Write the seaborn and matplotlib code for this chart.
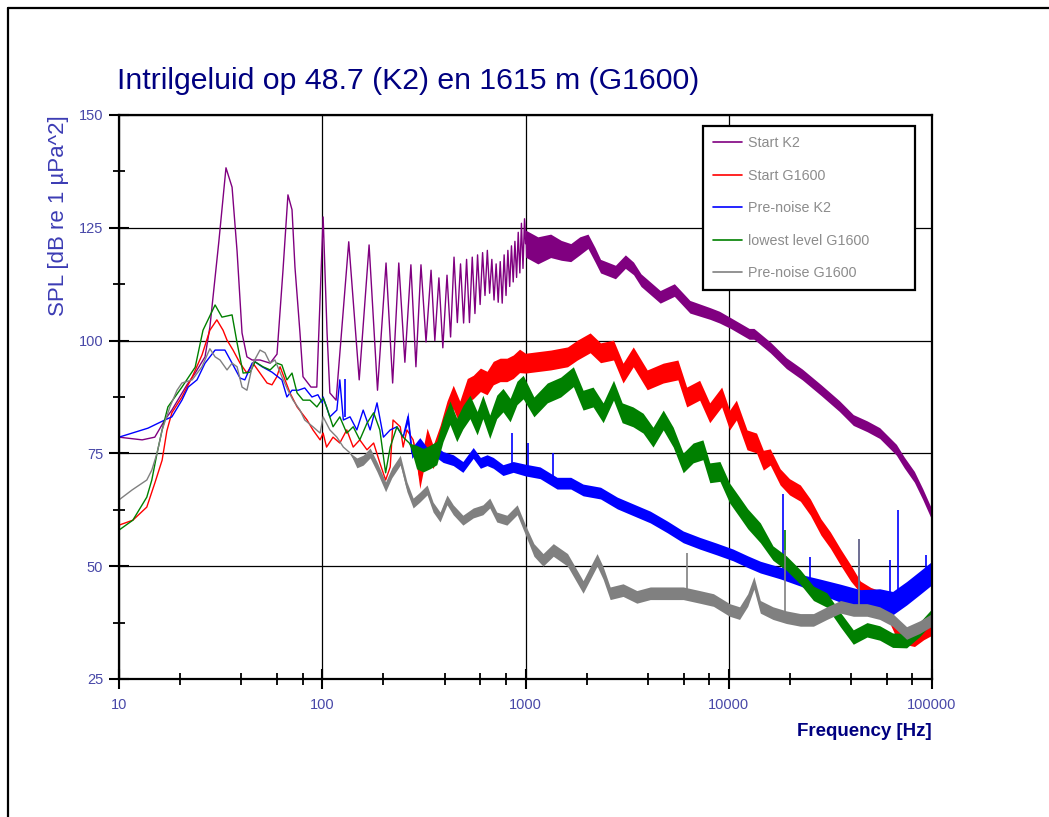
import numpy as np
import pandas as pd
import matplotlib
matplotlib.use("Agg")
import matplotlib.pyplot as plt
import seaborn as sns
from matplotlib.lines import Line2D
from matplotlib.ticker import FixedLocator, FixedFormatter, NullFormatter

# ---------------- data ----------------
title = "Intrilgeluid op 48.7 (K2) en 1615 m (G1600)"
xlabel = "Frequency [Hz]"
ylabel = "SPL [dB re 1 \u00b5Pa^2]"
series_labels = ["Start K2", "Start G1600", "Pre-noise K2", "lowest level G1600", "Pre-noise G1600"]
series_colors = ["#800080", "#ff0000", "#0000ff", "#008000", "#808080"]
x_ticks = [10, 100, 1000, 10000, 100000]
x_ticklabels = ["10", "100", "1000", "10000", "100000"]
x_minor = [20, 40, 60, 80, 200, 400, 600, 800, 2000, 4000, 6000, 8000,
           20000, 40000, 60000, 80000]
y_ticks = [25, 50, 75, 100, 125, 150]
y_minor = [37.5, 62.5, 87.5, 112.5, 137.5]

# Start K2 (purple)
k2_freq = [10, 13, 15, 16.8, 18.2, 21.6, 23.7, 26.5, 28, 31, 33.6, 36, 38.1, 40.3, 42.6, 45.2,
           49.4, 55.4, 59.9, 64.1, 67.8, 71, 73.4, 77.7, 80.4, 88, 94, 101, 105.6, 109, 117,
           135, 152, 170, 187, 206, 222, 238, 255, 273, 289, 306, 324, 343, 358, 375, 392,
           411, 428, 445, 462, 479, 496, 513, 530, 547, 564, 581, 598, 615, 632, 649, 666,
           683, 700, 717, 734, 751, 768, 785, 802, 819, 836, 853, 870, 887, 904, 921, 938,
           955, 972, 989,
           1000, 1150, 1330, 1500, 1670, 1850, 2030, 2200, 2340, 2770, 3100, 3400, 3700,
           4600, 5400, 6440, 8100, 9000, 10200, 12600, 13300, 16000, 19200, 23000, 28500,
           35000, 41000, 48000, 55300, 66800, 73000, 81900, 90000, 99000, 100000]
k2_level = [78.6, 78.0, 78.6, 82.4, 84.6, 90.2, 92.8, 96.4, 103.0, 122.0, 138.3, 134.0, 119.8,
            101.7, 96.4, 95.7, 95.7, 95.0, 97.0, 115.6, 132.3, 129.0, 116.3, 101.7, 92.0, 89.7,
            89.7, 127.4, 101.7, 88.4, 86.8,
            121.9, 91.3, 121.2, 89.0, 117.2, 90.6, 117.2, 95.2, 116.8, 94.2, 116.8, 99.7,
            115.6, 100.0, 113.9, 98.4, 114.5, 100.8, 118.5, 104.0, 117.0, 103.9, 118.0,
            104.0, 118.5, 106.0, 119.0, 108.0, 119.5, 110.0, 120.0, 110.5, 118.0, 109.0,
            117.0, 108.5, 117.5, 108.3, 119.0, 110.0, 120.0, 112.0, 121.0, 113.0, 122.0,
            114.0, 124.0, 115.0, 126.0, 116.0, 127.0,
            121.5, 120.0, 121.0, 120.0, 119.5, 121.0, 122.0, 119.0, 116.5, 115.2, 117.5,
            116.0, 113.4, 109.7, 111.2, 107.5, 106.0, 105.2, 103.9, 101.5, 101.5, 98.5,
            95.0, 92.5, 89.0, 85.5, 82.4, 81.0, 79.5, 75.8, 73.0, 69.8, 66.0, 61.8, 61.0]
k2_spread = [0] * 82 + [3.0, 3.0, 2.6, 2.2, 2.0, 2.0, 1.6, 1.6, 1.5, 1.5, 1.5, 1.4, 1.4, 1.4,
                        1.4, 1.4, 1.3, 1.3, 1.2, 1.2, 1.2, 1.2, 1.2, 1.2, 1.2, 1.2, 1.2, 1.2,
                        1.2, 1.2, 1.2, 1.2, 1.2, 1.2, 1.2]

# Start G1600 (red)
g_start_freq = [10, 11.7, 13.7, 15.0, 16.3, 17.2, 18.2, 20.4, 22.9, 25.6, 28, 30.3, 32.5, 34,
                36.4, 39.4, 42.6, 45.6, 49.4, 53.5, 56.6, 59.8, 62, 65.6, 69.4, 75.2, 84.2,
                90, 97.6, 101, 105, 113, 122, 132, 142, 153, 166, 179, 192, 205, 216, 223,
                242, 250, 261, 280, 302, 328, 351, 380, 411, 441, 475, 517, 553, 600, 647,
                694, 750, 810, 870, 935, 1000, 1330, 1610, 1800, 2080, 2340, 2710, 3020,
                3390, 3970, 4760, 5620, 6210, 7190, 8060, 9230, 10100, 10900, 12300, 13700,
                14800, 16000, 17900, 19900, 22500, 25200, 28400, 31600, 35500, 39800, 44400,
                49900, 55700, 60000, 66000, 73000, 82000, 91000, 100000]
g_start_level = [59.1, 60.2, 63.1, 68.4, 73.5, 80.0, 84.0, 87.5, 91.9, 96.8, 102.3, 104.6,
                 102.3, 100.1, 97.9, 95.0, 92.8, 95.0, 92.8, 90.6, 90.2, 92.0, 94.2, 91.3,
                 88.4, 85.3, 82.4, 80.2, 78.0, 79.5, 76.4, 78.6, 77.3, 80.2, 76.4, 78.0,
                 75.8, 77.3, 72.9, 69.1, 72.0, 82.4, 80.9, 76.4, 80.2, 78.0, 69.8, 78.0,
                 74.2, 78.6, 84.0, 87.5, 84.0, 89.0, 89.7, 91.3, 90.6, 92.8, 93.5, 93.5,
                 94.2, 95.5, 95.0, 95.7, 96.4, 97.9, 99.5, 97.3, 97.9, 92.8, 96.4, 91.3,
                 92.8, 93.5, 87.5, 89.0, 84.0, 87.5, 82.4, 84.6, 78.0, 77.3, 73.5, 74.2,
                 69.8, 67.6, 66.2, 63.1, 58.7, 55.8, 52.0, 48.5, 45.4, 44.0, 43.2, 40.0,
                 36.0, 34.0, 33.5, 35.0, 36.0]
g_start_spread = [0] * 46 + [2.6] * 16 + [2.2] * 21 + [1.8] * 9 + [1.3] * 9

# Pre-noise K2 (blue)
k2_pre_freq = [10, 11.6, 13.9, 15.6, 16.8, 18.2, 20.4, 21.9, 24.2, 26.5, 29.7, 33.2, 36, 39.4,
               41.6, 45.2, 46.7, 50.6, 56.6, 63.3, 67, 71, 76.2, 82, 89, 95.2, 100, 101, 109,
               118, 122, 127, 137, 148, 159, 172, 186, 200, 216, 233, 250, 264, 276, 302,
               328, 351, 393, 441, 492, 553, 600, 647, 694, 775, 870, 1000, 1180, 1430,
               1670, 1920, 2340, 2830, 3390, 4110, 4990, 5970, 7190, 8730, 10500, 12400,
               14300, 17900, 22500, 28400, 35500, 44400, 55300, 64000, 75000, 87000, 100000]
k2_pre_level = [78.6, 79.5, 80.6, 81.7, 82.4, 83.1, 86.8, 89.7, 91.3, 95.0, 97.9, 97.9, 95.0,
                91.7, 91.3, 95.0, 95.3, 94.2, 93.0, 91.3, 87.5, 89.0, 89.0, 89.5, 87.5, 88.0,
                86.2, 87.5, 83.1, 84.6, 91.3, 82.4, 83.1, 80.2, 84.6, 80.2, 86.2, 78.6,
                80.2, 80.9, 78.6, 83.1, 75.1, 77.3, 75.1, 75.8, 74.2, 73.5, 72.0, 75.1,
                72.9, 73.5, 72.9, 71.3, 72.0, 71.3, 70.7, 68.4, 68.4, 66.9, 66.2, 64.0,
                62.5, 60.9, 58.7, 56.5, 55.1, 53.8, 52.5, 51.0, 49.8, 48.5, 46.9, 45.4,
                44.0, 42.5, 42.5, 41.8, 44.0, 46.3, 48.5]
k2_pre_spread = [0] * 41 + [1.2] * 14 + [1.3] * 18 + [1.7, 2.0, 2.3, 2.5, 2.6, 2.6, 2.6, 2.6]

# lowest level G1600 (green)
g_low_freq = [10, 11.7, 13.7, 14.5, 15.4, 16.3, 17.4, 20.4, 23.7, 25.9, 29.7, 32.1, 36, 38.1,
              40.8, 44.2, 46.7, 51.1, 55.4, 59.9, 63.3, 67, 71, 75.2, 80.4, 87, 94.1, 101,
              105, 113, 122, 132, 142, 153, 166, 179, 192, 205, 216, 233, 250, 268, 291,
              314, 339, 366, 393, 425, 459, 492, 533, 578, 617, 667, 722, 775, 840, 908,
              974, 1100, 1280, 1490, 1720, 1920, 2150, 2410, 2710, 2990, 3380, 3790, 4240,
              4760, 5330, 5970, 6680, 7460, 8070, 9050, 10100, 11300, 12400, 14300, 16500,
              19200, 22500, 26100, 30400, 35500, 41000, 47900, 55300, 64000, 75000, 87000,
              100000]
g_low_level = [58.0, 60.2, 65.3, 69.1, 75.1, 80.2, 85.3, 89.7, 94.1, 102.3, 107.9, 105.2,
               105.7, 99.5, 92.8, 93.0, 95.3, 94.2, 93.5, 95.0, 94.6, 91.3, 92.8, 88.4, 86.8,
               86.8, 85.3, 87.3, 85.3, 80.9, 83.1, 79.5, 80.9, 78.0, 81.7, 84.0, 80.2, 70.7,
               76.4, 80.9, 78.6, 77.3, 74.2, 73.5, 74.2, 75.1, 80.2, 84.0, 80.2, 83.0, 85.3,
               81.7, 85.3, 80.9, 85.3, 86.8, 84.6, 88.4, 89.7, 85.3, 88.4, 89.7, 92.0, 86.8,
               87.5, 84.0, 89.0, 84.0, 83.1, 81.7, 78.6, 82.4, 78.6, 72.9, 75.1, 75.8, 70.7,
               71.0, 66.2, 63.1, 60.5, 57.4, 52.9, 50.7, 47.6, 44.0, 42.5, 38.1, 34.3, 35.9,
               35.2, 33.6, 33.5, 36.0, 39.0]
g_low_spread = [0] * 42 + [2.6] * 17 + [2.2] * 23 + [1.6] * 13

# Pre-noise G1600 (grey)
g_pre_freq = [10, 11.6, 13.7, 14.5, 15.4, 16.3, 17.8, 19.3, 20.4, 22.9, 25.6, 28, 29.7, 31.4,
              34, 36, 38.1, 40.3, 42.6, 45.6, 49.4, 52.3, 55.4, 58.5, 63.3, 67.8, 71.8, 77.7,
              82, 90, 97.6, 101, 109, 118, 127, 137, 148, 159, 172, 186, 205, 220, 242, 261,
              280, 302, 328, 351, 380, 411, 441, 492, 553, 617, 667, 722, 810, 910, 1000,
              1100, 1220, 1370, 1610, 1920, 2250, 2410, 2610, 3020, 3530, 4110, 4990, 5970,
              7190, 8410, 10100, 11300, 12400, 13300, 14300, 16500, 19200, 22500, 26100,
              30400, 35500, 41000, 47900, 55300, 64000, 75000, 87000, 100000]
g_pre_level = [64.7, 66.9, 69.1, 71.3, 75.1, 80.2, 85.3, 89.0, 90.6, 91.3, 94.2, 98.2, 96.4,
               95.7, 93.5, 95.0, 94.2, 89.7, 89.0, 95.0, 97.9, 97.3, 95.0, 95.7, 92.0, 89.0,
               86.8, 84.6, 82.4, 80.9, 79.5, 83.1, 80.2, 78.6, 76.4, 75.1, 72.9, 73.5, 75.1,
               72.0, 67.6, 70.7, 73.5, 67.6, 64.0, 65.3, 66.9, 63.1, 60.9, 64.7, 62.5, 60.2,
               61.8, 62.5, 64.0, 60.9, 60.2, 62.5, 58.0, 53.6, 51.4, 53.6, 51.4, 45.4, 51.4,
               48.5, 44.0, 44.7, 43.2, 44.0, 44.0, 44.0, 43.2, 42.5, 40.3, 39.6, 42.5, 46.3,
               41.0, 39.6, 38.7, 38.1, 38.1, 39.6, 41.0, 40.3, 40.3, 39.6, 38.1, 35.2, 36.5,
               38.1]
g_pre_spread = [0] * 36 + [1.1] * 23 + [1.4] * 33

# narrow spikes (frequency, bottom, top)
blue_spike_freq = [130, 860, 1030, 1370, 18500, 25000, 43500, 62000, 68000, 93000]
blue_spike_bottom = [83, 72, 71, 69, 48, 46, 43, 42, 42, 47]
blue_spike_top = [91.5, 79.5, 77.3, 75.1, 66.0, 52.0, 56.0, 51.4, 62.5, 52.5]
grey_spike_freq = [6200, 19000, 43500]
grey_spike_bottom = [44, 39, 40]
grey_spike_top = [53.0, 53.6, 56.0]
green_spike_freq = [19000]
green_spike_bottom = [51]
green_spike_top = [58.0]

# ---------------- build frames ----------------
all_series = [
    (k2_freq, k2_level, k2_spread),
    (g_start_freq, g_start_level, g_start_spread),
    (k2_pre_freq, k2_pre_level, k2_pre_spread),
    (g_low_freq, g_low_level, g_low_spread),
    (g_pre_freq, g_pre_level, g_pre_spread),
]
frames = []
for lab, (f, l, s) in zip(series_labels, all_series):
    frames.append(pd.DataFrame({"freq": f, "level": l, "spread": s, "series": lab}))
df = pd.concat(frames, ignore_index=True)

# ---------------- style ----------------
sns.set_theme(style="white")
plt.rcParams["font.family"] = ["Liberation Sans", "DejaVu Sans"]

fig = plt.figure(figsize=(10.49, 8.17), dpi=100)
ax = fig.add_axes([119 / 1049, 138 / 817, 813 / 1049, 564 / 817])

palette = dict(zip(series_labels, series_colors))
for i, lab in enumerate(series_labels):
    d = df[df["series"] == lab]
    sns.lineplot(data=d, x="freq", y="level", color=palette[lab], estimator=None,
                 sort=False, lw=1.0, legend=False, ax=ax, zorder=3 + i)
    ax.fill_between(d["freq"], d["level"] - d["spread"], d["level"] + d["spread"],
                    color=palette[lab], lw=0, zorder=3 + i)

ax.vlines(blue_spike_freq, blue_spike_bottom, blue_spike_top, color="#0000ff", lw=1.2, zorder=5)
ax.vlines(green_spike_freq, green_spike_bottom, green_spike_top, color="#008000", lw=1.2, zorder=6)
ax.vlines(grey_spike_freq, grey_spike_bottom, grey_spike_top, color="#808080", lw=1.2, zorder=7)

ax.set_xscale("log")
ax.set_xlim(10, 100000)
ax.set_ylim(25, 150)
ax.xaxis.set_major_locator(FixedLocator(x_ticks))
ax.xaxis.set_major_formatter(FixedFormatter(x_ticklabels))
ax.xaxis.set_minor_locator(FixedLocator(x_minor))
ax.xaxis.set_minor_formatter(NullFormatter())
ax.yaxis.set_major_locator(FixedLocator(y_ticks))
ax.yaxis.set_minor_locator(FixedLocator(y_minor))

ax.grid(True, which="major", color="black", lw=0.9)
ax.set_axisbelow(True)
for sp in ax.spines.values():
    sp.set_color("black")
    sp.set_linewidth(1.6)
    sp.set_zorder(20)

tick_col = "#4848a8"
ax.tick_params(axis="both", which="major", direction="inout", length=15, width=1.5,
               color="black", labelcolor=tick_col, labelsize=10.5, bottom=True, left=True)
ax.tick_params(axis="both", which="minor", direction="inout", length=9, width=1.3,
               color="black", bottom=True, left=True)
ax.tick_params(axis="x", which="major", pad=6)
ax.tick_params(axis="y", which="major", pad=4)

ax.set_xlabel(xlabel, color="#000080", fontsize=13.5, fontweight="bold", loc="right", labelpad=8)
ax.set_ylabel(ylabel, color="#3c3cb4", fontsize=16, loc="top", labelpad=7)

fig.text(117 / 1049, 1 - 81 / 817, title, color="#000080", fontsize=21.8, ha="left", va="center")

handles = [Line2D([0], [0], color=c, lw=1.2) for c in series_colors]
leg = ax.legend(handles, series_labels, loc="upper left",
                bbox_to_anchor=(584 / 813, 1 - 11 / 564, 212 / 813, 0.0), mode="expand",
                fontsize=10.3, frameon=True, fancybox=False, borderaxespad=0,
                labelspacing=1.3, handlelength=2.0, handletextpad=0.45, borderpad=0.7)
leg.get_frame().set_edgecolor("black")
leg.get_frame().set_linewidth(1.6)
leg.get_frame().set_facecolor("white")
leg.get_frame().set_alpha(1)
leg.set_zorder(30)
for t in leg.get_texts():
    t.set_color("#8c8c8c")

# outer frame (cut off at right and bottom)
fig.add_artist(Line2D([8 / 1049, 8 / 1049], [0, 1 - 8 / 817], color="black", lw=1.6))
fig.add_artist(Line2D([8 / 1049, 1], [1 - 8 / 817, 1 - 8 / 817], color="black", lw=1.6))

fig.savefig("out.png", dpi=100)
